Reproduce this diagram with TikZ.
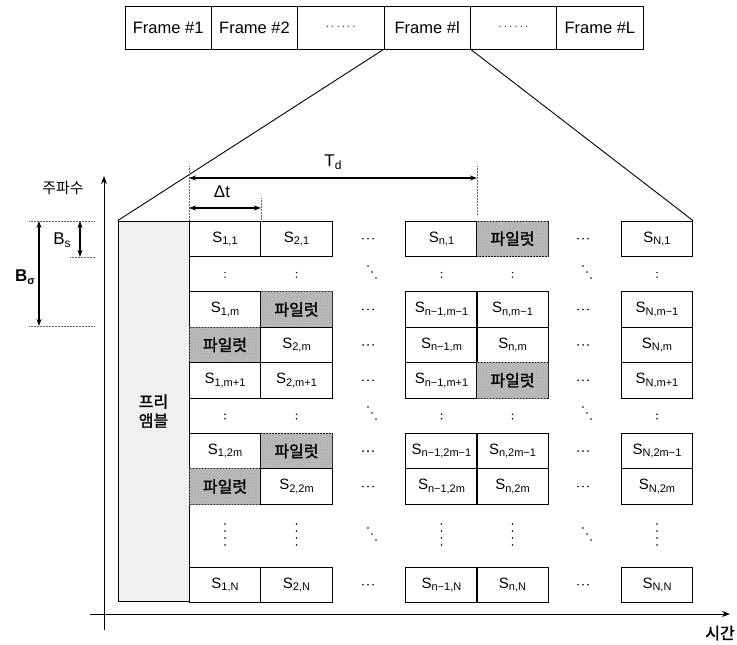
\documentclass[tikz,border=0pt]{standalone}
\usepackage{fontspec}
\setmainfont{Liberation Sans}
\newfontfamily\kr{Noto Sans CJK KR}
\newfontfamily\krb[FakeBold=1.5]{Noto Sans CJK KR}
\usetikzlibrary{arrows.meta,patterns}
\newcommand\Ssub[1]{S\raisebox{-0.3ex}{\fontsize{11}{12}\selectfont #1}}
\newcommand\fdots{·\kern2pt·\kern2pt·\kern2pt·\kern2pt·\kern2pt·}
\begin{document}
\begin{tikzpicture}[x=1pt,y=-1pt,
  cell/.style={draw, line width=0.7pt, minimum width=71.5pt, minimum height=35.4pt, inner sep=0pt, font=\fontsize{15}{17}\selectfont},
  pilot/.style={cell, fill=gray!50, postaction={pattern=crosshatch, pattern color=black!30}, font=\krb\fontsize{16}{17}\selectfont},
  frm/.style={draw, line width=0.8pt, minimum width=86.33pt, minimum height=43pt, inner sep=0pt, font=\fontsize{16.5}{18}\selectfont},
  dimarr/.style={{Stealth[length=7pt,width=5pt]}-{Stealth[length=7pt,width=5pt]}, line width=1.2pt},
  axisarr/.style={-{Stealth[length=8pt,width=6pt]}, line width=1pt},
  guide/.style={densely dotted, line width=0.5pt, black!60},
  lbl/.style={inner sep=0pt, font=\fontsize{17}{19}\selectfont}
]
\useasboundingbox (0,0) rectangle (737,645);

% frame bar
\node[frm] (f1) at (168.17,27.5) {Frame \#1};
\node[frm] (f2) at (254.5,27.5) {Frame \#2};
\node[frm] (f3) at (340.83,27.5) {\fontsize{10}{12}\selectfont\fdots};
\node[frm] (fl) at (427.17,27.5) {Frame \#l};
\node[frm] (f5) at (513.5,27.5) {\fontsize{10}{12}\selectfont\fdots};
\node[frm] (fL) at (599.83,27.5) {Frame \#L};

% preamble
\node[draw, line width=0.7pt, fill=gray!12, minimum width=71pt, minimum height=380pt, inner sep=0pt, align=center, font=\krb\fontsize{16}{19}\selectfont] (pre) at (153.5,411) {프리\\앰블};

% rows
\def\cA{225}\def\cB{296.5}\def\cC{441.5}\def\cD{512.5}\def\cE{657}
\def\dA{368}\def\dB{583}

% R1
\node[cell] (s11) at (\cA,238.7) {\Ssub{1,1}};
\node[cell] (s21) at (\cB,238.7) {\Ssub{2,1}};
\node[cell] (sn1) at (\cC,238.7) {\Ssub{n,1}};
\node[pilot] (p1) at (\cD,238.7) {파일럿};
\node[cell] (sN1) at (\cE,238.7) {\Ssub{N,1}};
% R3
\node[cell] (s1m) at (\cA,309.5) {\Ssub{1,m}};
\node[pilot] (p2) at (\cB,309.5) {파일럿};
\node[cell] (snm1a) at (\cC,309.5) {\Ssub{n−1,m−1}};
\node[cell] (snm1b) at (\cD,309.5) {\Ssub{n,m−1}};
\node[cell] (sNm1) at (\cE,309.5) {\Ssub{N,m−1}};
% R4
\node[pilot] (p3) at (\cA,344.9) {파일럿};
\node[cell] (s2m) at (\cB,344.9) {\Ssub{2,m}};
\node[cell] (sn1m) at (\cC,344.9) {\Ssub{n−1,m}};
\node[cell] (snm) at (\cD,344.9) {\Ssub{n,m}};
\node[cell] (sNm) at (\cE,344.9) {\Ssub{N,m}};
% R5
\node[cell] (s1mp) at (\cA,380.3) {\Ssub{1,m+1}};
\node[cell] (s2mp) at (\cB,380.3) {\Ssub{2,m+1}};
\node[cell] (sn1mp) at (\cC,380.3) {\Ssub{n−1,m+1}};
\node[pilot] (p4) at (\cD,380.3) {파일럿};
\node[cell] (sNmp) at (\cE,380.3) {\Ssub{N,m+1}};
% R7
\node[cell] (s12m) at (\cA,451.1) {\Ssub{1,2m}};
\node[pilot] (p5) at (\cB,451.1) {파일럿};
\node[cell] (sn12m1) at (\cC,451.1) {\Ssub{n−1,2m−1}};
\node[cell] (sn2m1) at (\cD,451.1) {\Ssub{n,2m−1}};
\node[cell] (sN2m1) at (\cE,451.1) {\Ssub{N,2m−1}};
% R8
\node[pilot] (p6) at (\cA,486.5) {파일럿};
\node[cell] (s22m) at (\cB,486.5) {\Ssub{2,2m}};
\node[cell] (sn12m) at (\cC,486.5) {\Ssub{n−1,2m}};
\node[cell] (sn2m) at (\cD,486.5) {\Ssub{n,2m}};
\node[cell] (sN2m) at (\cE,486.5) {\Ssub{N,2m}};
% last row
\node[cell] (s1N) at (\cA,584.7) {\Ssub{1,N}};
\node[cell] (s2N) at (\cB,584.7) {\Ssub{2,N}};
\node[cell] (sn1N) at (\cC,584.7) {\Ssub{n−1,N}};
\node[cell] (snN) at (\cD,584.7) {\Ssub{n,N}};
\node[cell] (sNN) at (\cE,584.7) {\Ssub{N,N}};

% horizontal dots
\foreach \y in {238.7,309.5,344.9,380.3,451.1,486.5,584.7}
  \foreach \x in {\dA,\dB}
    \foreach \o in {-5,0,5} \fill (\x+\o,\y) circle (0.9pt);
% colons
\foreach \y in {274.1,415.7}
  \foreach \x in {\cA,\cB,\cC,\cD,\cE}
    \foreach \o in {-1.5,3} \fill (\x,\y+\o) circle (0.85pt);
% diagonal dots
\foreach \y in {272,413,534}
  \foreach \x in {372,587}
    \foreach \o in {-1,0,1} \fill (\x+4*\o,\y+6*\o) circle (0.85pt);
% vertical dots in gap
\foreach \x in {\cA,\cB,\cC,\cD,\cE}
  \foreach \y in {524,531,538,545} \fill (\x,\y) circle (0.9pt);

% lines from frame to block
\draw[line width=0.9pt] (fl.south west) -- (pre.north west);
\draw[line width=0.9pt] (fl.south east) -- (sN1.north east);

% axes
\coordinate (yb) at (104,630);
\coordinate (yt) at (104,176);
\coordinate (xl) at (90,614);
\coordinate (xr) at (730,614);
\draw[axisarr] (yb) -- (yt);
\draw[axisarr] (xl) -- (xr);
\node[lbl, font=\kr\fontsize{15}{17}\selectfont] (flab) at (63,188) {주파수};
\node[lbl, font=\krb\fontsize{16}{18}\selectfont] (tlab) at (720,633) {시간};

% guides
\coordinate (g1a) at (189,166); \coordinate (g1b) at (189,221);
\coordinate (g2a) at (261,198); \coordinate (g2b) at (261,221);
\coordinate (g3a) at (477,166); \coordinate (g3b) at (477,215);
\draw[guide] (g1a) -- (g1b);
\draw[guide] (g2a) -- (g2b);
\draw[guide] (g3a) -- (g3b);
\coordinate (h1a) at (29,221); \coordinate (h1b) at (95,221);
\coordinate (h2a) at (70,257); \coordinate (h2b) at (95,257);
\coordinate (h3a) at (29,326); \coordinate (h3b) at (95,326);
\draw[guide] (h1a) -- (h1b);
\draw[guide] (h2a) -- (h2b);
\draw[guide] (h3a) -- (h3b);

% dimension arrows
\coordinate (tdL) at (189,178); \coordinate (tdR) at (477,178);
\draw[dimarr] (tdL) -- (tdR);
\node[lbl] (tdlab) at (333,162) {T\raisebox{-0.3ex}{\fontsize{12}{13}\selectfont d}};
\coordinate (dtL) at (189,208); \coordinate (dtR) at (261,208);
\draw[dimarr] (dtL) -- (dtR);
\node[lbl] (dtlab) at (222,192) {Δt};
\coordinate (bsT) at (80,221); \coordinate (bsB) at (80,257);
\draw[dimarr] (bsT) -- (bsB);
\node[lbl] (bslab) at (62,240) {B\raisebox{-0.3ex}{\fontsize{12}{13}\selectfont s}};
\coordinate (bgT) at (39,221); \coordinate (bgB) at (39,326);
\draw[dimarr] (bgT) -- (bgB);
\node[lbl, font=\bfseries\fontsize{17}{19}\selectfont] (bglab) at (25,277) {B\raisebox{-0.3ex}{\fontsize{11}{13}\selectfont σ}};
\end{tikzpicture}
\end{document}
